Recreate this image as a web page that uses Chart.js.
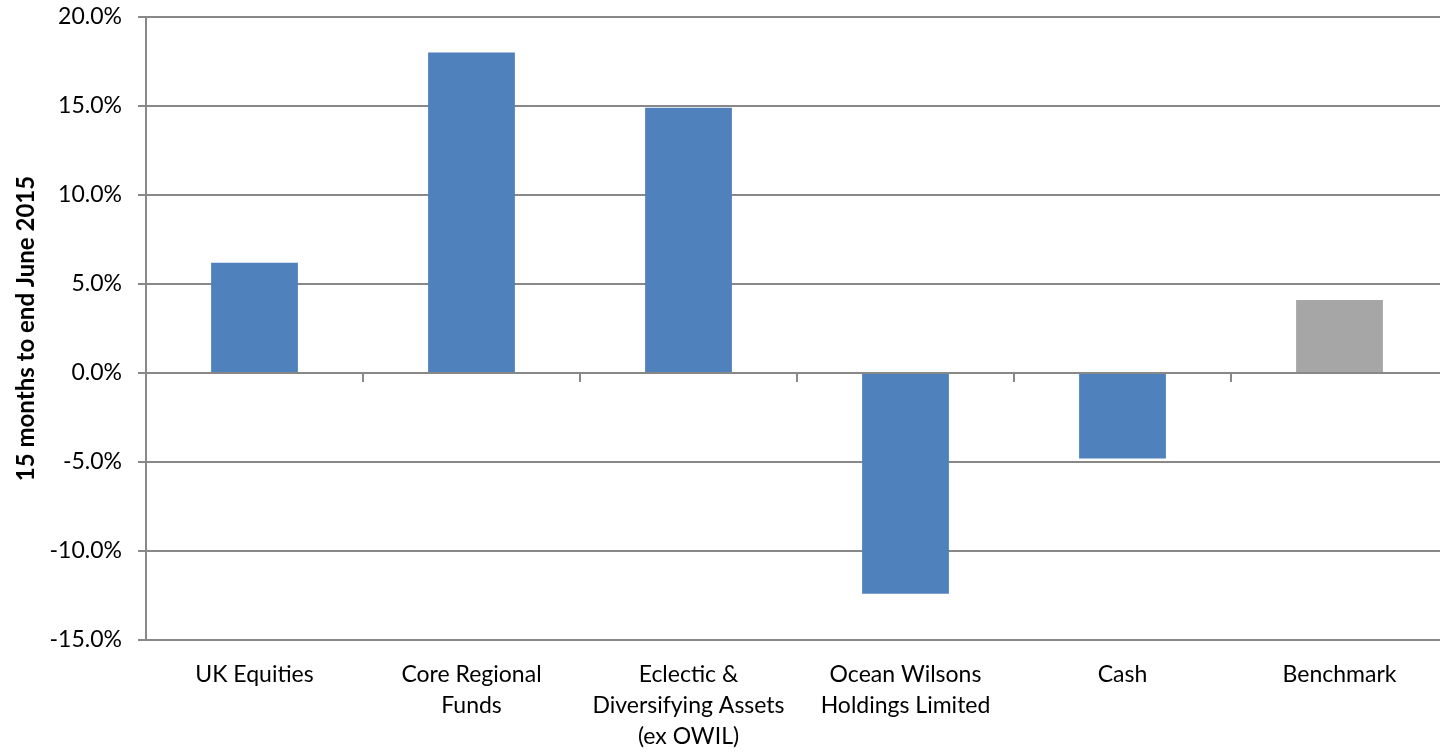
<!DOCTYPE html>
<html>
<head>
<meta charset="utf-8">
<script src="https://cdn.jsdelivr.net/npm/chart.js@4/dist/chart.umd.min.js"></script>
<style>
  html, body { margin: 0; padding: 0; background: #fff; overflow: hidden; }
  #wrap { width: 1440px; height: 754px; overflow: hidden; }
</style>
</head>
<body>
<div id="wrap"><canvas id="c" width="1448" height="754"></canvas></div>
<script>
// Asset class returns, 15 months to end June 2015
const categories = [
  ['UK Equities'],
  ['Core Regional', 'Funds'],
  ['Eclectic &', 'Diversifying Assets', '(ex OWIL)'],
  ['Ocean Wilsons', 'Holdings Limited'],
  ['Cash'],
  ['Benchmark']
];
const returns = [6.2, 18.0, 14.9, -12.4, -4.8, 4.1];
const barColors = ['#4F81BD', '#4F81BD', '#4F81BD', '#4F81BD', '#4F81BD', '#A6A6A6'];
const yTicks = { min: -15, max: 20, step: 5 };
const yTitle = '15 months to end June 2015';

const axisGrey = '#888888';
const font = "Lato, 'Open Sans', sans-serif";

// short tick marks on the zero line between categories
const zeroTicks = {
  id: 'zeroTicks',
  afterDatasetsDraw(chart) {
    const { ctx, scales: { x, y } } = chart;
    const y0 = y.getPixelForValue(0);
    ctx.save();
    ctx.strokeStyle = axisGrey;
    ctx.lineWidth = 2;
    for (let i = 1; i < categories.length; i++) {
      const px = (x.getPixelForTick(i - 1) + x.getPixelForTick(i)) / 2;
      ctx.beginPath();
      ctx.moveTo(px, y0);
      ctx.lineTo(px, y0 + 9);
      ctx.stroke();
    }
    ctx.restore();
  }
};

new Chart(document.getElementById('c'), {
  type: 'bar',
  data: {
    labels: categories,
    datasets: [{
      data: returns,
      backgroundColor: barColors,
      borderWidth: 0,
      categoryPercentage: 1,
      barPercentage: 0.4
    }]
  },
  options: {
    responsive: false,
    animation: false,
    layout: { padding: { top: 17, right: 0, bottom: 0, left: 0 } },
    plugins: { legend: { display: false }, tooltip: { enabled: false } },
    scales: {
      x: {
        grid: { display: false },
        border: { display: false },
        ticks: {
          color: '#000',
          font: { family: font, size: 23, lineHeight: 1.35 },
          padding: 11,
          maxRotation: 0,
          autoSkip: false
        },
        afterFit(scale) {
          scale.height = 114;
          scale.paddingLeft = 0;
          scale.paddingRight = 0;
        }
      },
      y: {
        min: yTicks.min,
        max: yTicks.max,
        ticks: {
          stepSize: yTicks.step,
          color: '#000',
          font: { family: font, size: 23 },
          padding: 16,
          callback: v => v.toFixed(1) + '%'
        },
        grid: { color: axisGrey, lineWidth: 2, tickLength: 8, drawTicks: true },
        border: { display: true, color: axisGrey, width: 2 },
        title: {
          display: true,
          text: yTitle,
          color: '#000',
          font: { family: font, size: 24, weight: 'bold' },
          padding: { top: 12, bottom: 0 }
        },
        afterFit(scale) {
          scale.width = 146;
          scale.paddingTop = 0;
          scale.paddingBottom = 0;
        }
      }
    }
  },
  plugins: [zeroTicks]
});
</script>
</body>
</html>
